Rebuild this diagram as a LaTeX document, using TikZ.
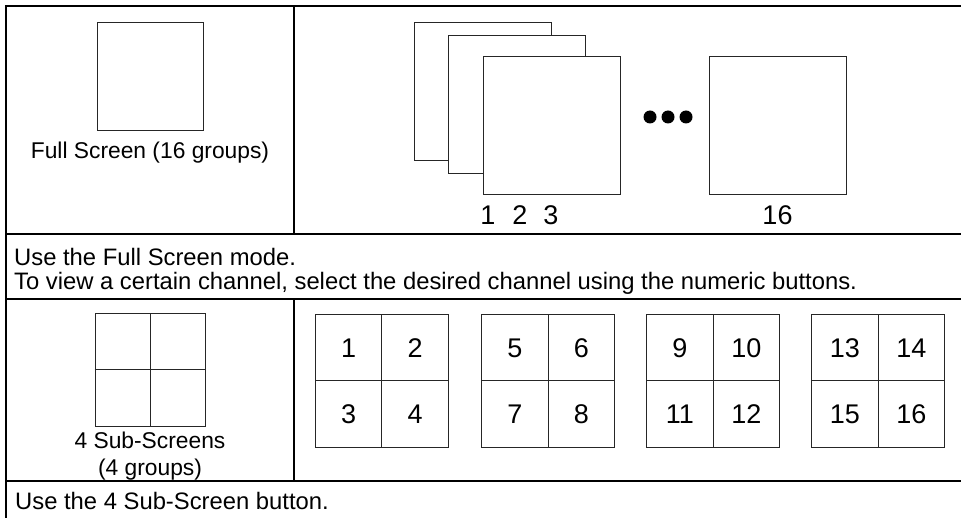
\documentclass[tikz,border=0pt]{standalone}
\usepackage{fontspec}
\setmainfont{Liberation Sans}
\begin{document}
\begin{tikzpicture}[x=1pt,y=-1pt,
  rule/.style={line width=2.2pt,black},
  scr/.style={draw=black!85,line width=1pt,fill=white,inner sep=0pt,minimum width=137pt,minimum height=138pt},
  cellbox/.style={draw=black!85,line width=1pt,inner sep=0pt,minimum width=66.5pt,minimum height=66pt,text height=19.3pt,text depth=0pt,font=\fontsize{27}{31}\selectfont},
  txt/.style={inner sep=0pt,font=\fontsize{22.8}{27}\selectfont},
  txtb/.style={inner sep=0pt,font=\fontsize{23.8}{28}\selectfont},
  num/.style={inner sep=0pt,text height=19.3pt,text depth=0pt,font=\fontsize{27}{31}\selectfont},
  dotc/.style={circle,fill=black,inner sep=0pt,minimum size=13pt}]
\useasboundingbox (0,0) rectangle (961,518);
% table rules
\coordinate (tl) at (6,6);
\coordinate (tr) at (961,6);
\coordinate (bl) at (6,518);
\coordinate (r1l) at (6,234); \coordinate (r1r) at (961,234);
\coordinate (r2l) at (6,299); \coordinate (r2r) at (961,299);
\coordinate (r3l) at (6,481); \coordinate (r3r) at (961,481);
\coordinate (d1t) at (294,6); \coordinate (d1b) at (294,234);
\coordinate (d2t) at (294,299); \coordinate (d2b) at (294,481);
\draw[rule] ([xshift=-1.1pt]tl) -- (tr);
\draw[rule] ([yshift=-1.1pt]tl) -- (bl);
\draw[rule] (r1l) -- (r1r);
\draw[rule] (r2l) -- (r2r);
\draw[rule] (r3l) -- (r3r);
\draw[rule] (d1t) -- (d1b);
\draw[rule] (d2t) -- (d2b);
% row 1 left
\node[scr,minimum width=106pt,minimum height=108pt] (full) at (150,77) {};
\node[txt,anchor=base] (fulltxt) at (150,159) {Full Screen (16 groups)};
% row 1 right
\node[scr] (s1) at (483,91.3) {};
\node[scr] (s2) at (517,105) {};
\node[scr] (s3) at (551.5,125.8) {};
\node[scr] (s16) at (777.5,125.7) {};
\node[dotc] (dA) at (650,117) {};
\node[dotc] (dB) at (668,117) {};
\node[dotc] (dC) at (686,117) {};
\node[num] (l1) at (488,215) {1};
\node[num] (l2) at (520,215) {2};
\node[num] (l3) at (551,215) {3};
\node[num] (l16) at (777.5,215) {16};
% row 2
\node[txtb,anchor=base west] (t2a) at (14,266) {Use the Full Screen mode.};
\node[txtb,anchor=base west] (t2b) at (14,290) {To view a certain channel, select the desired channel using the numeric buttons.};
% row 3 left
\node[scr,minimum width=110pt,minimum height=112pt] (quad) at (150,370) {};
\draw[draw=black!85,line width=1pt] (quad.north) -- (quad.south);
\draw[draw=black!85,line width=1pt] (quad.west) -- (quad.east);
\node[txt,anchor=base] (q1) at (150,448) {4 Sub-Screens};
\node[txt,anchor=base] (q2) at (150,475) {(4 groups)};
% row 3 right grids
\foreach \gx/\a/\b/\c/\d/\g in {315.3/1/2/3/4/ga, 481.7/5/6/7/8/gb, 646.7/9/10/11/12/gc, 811.7/13/14/15/16/gd}{
  \node[cellbox] (\g1) at (\gx+33.25,348) {\a};
  \node[cellbox] (\g2) at (\gx+99.75,348) {\b};
  \node[cellbox] (\g3) at (\gx+33.25,414) {\c};
  \node[cellbox] (\g4) at (\gx+99.75,414) {\d};
}
% row 4
\node[txtb,anchor=base west] (t4) at (15,509) {Use the 4 Sub-Screen button.};
\end{tikzpicture}
\end{document}
